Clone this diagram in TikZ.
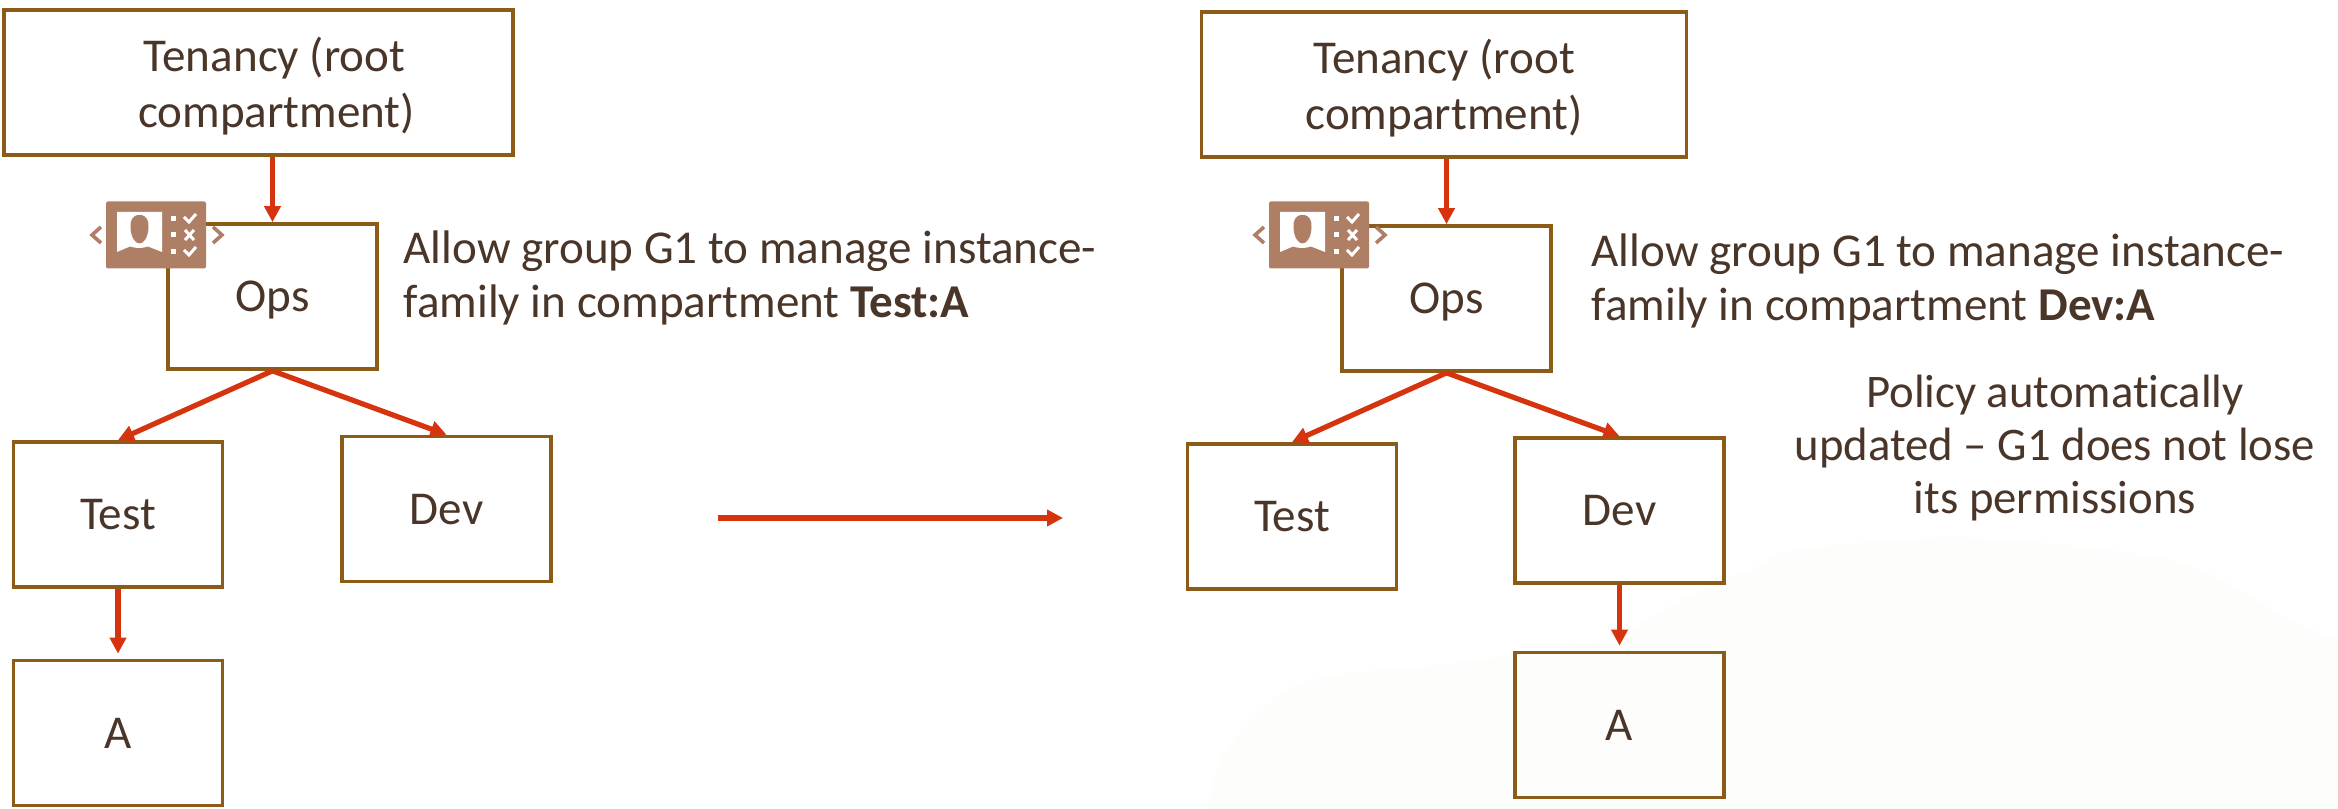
\documentclass[tikz,border=0pt]{standalone}
\usepackage{fontspec}
\setmainfont[Ligatures=NoCommon]{Carlito}
\usetikzlibrary{arrows.meta}

\definecolor{boxbrown}{HTML}{8C5B17}
\definecolor{linkred}{HTML}{D6340F}
\definecolor{textbrown}{HTML}{4A3529}
\definecolor{iconbrown}{HTML}{AE7F65}
\definecolor{hillgray}{HTML}{FDFDFC}

\tikzset{
    compbox/.style={draw=boxbrown, line width=0.37mm, align=center, inner sep=0pt, text depth=0pt, text=textbrown, font=\fontsize{13.4}{16}\selectfont},
    notetext/.style={inner sep=0pt, text=textbrown, font=\fontsize{13.4}{15.6}\selectfont},
    link/.style={draw=linkred, line width=0.52mm, -{Triangle[length=1.6mm,width=1.6mm]}},
    policyicon/.pic={
        \fill[iconbrown, rounded corners=0.2mm] (-0.5,-0.335) rectangle (0.5,0.335);
        \fill[white] (-0.39,0.23) -- (0.06,0.23) -- (0.06,-0.17) -- (-0.08,-0.115) .. controls (-0.14,-0.135) and (-0.2,-0.135) .. (-0.26,-0.115) -- (-0.39,-0.17) -- cycle;
        \fill[iconbrown] (-0.165,0.2) .. controls (-0.09,0.2) and (-0.07,0.14) .. (-0.075,0.07) .. controls (-0.08,-0.02) and (-0.12,-0.085) .. (-0.165,-0.085) .. controls (-0.21,-0.085) and (-0.25,-0.02) .. (-0.255,0.07) .. controls (-0.26,0.14) and (-0.24,0.2) .. (-0.165,0.2) -- cycle;
        % bullets and marks
        \foreach \y in {0.165, 0, -0.165} {
            \fill[white] (0.145,\y-0.025) rectangle (0.2,\y+0.025);
        }
        \draw[white, line width=0.3mm] (0.28,0.18) -- (0.33,0.13) -- (0.40,0.21);
        \draw[white, line width=0.3mm] (0.29,-0.05) -- (0.38,0.05) (0.29,0.05) -- (0.38,-0.05);
        \draw[white, line width=0.3mm] (0.28,-0.15) -- (0.33,-0.20) -- (0.40,-0.12);
        % side chevrons
        \draw[iconbrown, line width=0.36mm] (-0.55,0.08) -- (-0.64,0) -- (-0.55,-0.08);
        \draw[iconbrown, line width=0.36mm] (0.57,0.08) -- (0.66,0) -- (0.57,-0.08);
    }
}

\begin{document}
\begin{tikzpicture}
    \useasboundingbox (0,0) rectangle (23.38,8.09);

    % Faint hill behind the right part
    \fill[hillgray] plot[smooth] coordinates {(12.07,0) (12.26,0.59) (13.01,1.26) (14.53,1.46) (16.04,1.69) (16.8,2.09) (17.56,2.42) (17.94,2.59) (19.5,2.72) (21.0,2.6) (21.95,2.42) (22.86,1.92) (23.38,1.69)} -- (23.38,0) -- cycle;

    % Left tree
    \node[compbox, minimum width=5.09cm, minimum height=1.45cm] (tenancyL) at (2.585,7.265) {\hspace*{0.32cm}Tenancy (root\\\hspace*{0.36cm}compartment)};
    \node[compbox, minimum width=2.09cm, minimum height=1.45cm] (opsL) at (2.725,5.125) {Ops};
    \node[compbox, minimum width=2.09cm, minimum height=1.45cm] (testL) at (1.18,2.945) {Test};
    \node[compbox, minimum width=2.09cm, minimum height=1.45cm] (devL) at (4.465,3.00) {Dev};
    \node[compbox, minimum width=2.09cm, minimum height=1.45cm] (aL) at (1.18,0.76) {A};

    \pic at (1.56,5.74) {policyicon};
    \node[notetext, anchor=west, align=left] (noteL) at (4.03,5.31) {Allow group G1 to manage instance-\\family in compartment \textbf{Test:A}};

    \draw[link] (opsL.north |- tenancyL.south) -- (opsL.north);
    \draw[link] (opsL.south) -- (testL.north);
    \draw[link] (opsL.south) -- (devL.north);
    \draw[link, shorten >=0.05cm] (testL.south) -- (aL.north);

    % Middle arrow
    \coordinate (moveStart) at (7.18,2.91);
    \coordinate (moveEnd) at (10.63,2.91);
    \draw[link] (moveStart) -- (moveEnd);

    % Right tree
    \node[compbox, minimum width=4.85cm, minimum height=1.45cm] (tenancyR) at (14.44,7.245) {Tenancy (root\\compartment)};
    \node[compbox, minimum width=2.09cm, minimum height=1.45cm] (opsR) at (14.465,5.105) {Ops};
    \node[compbox, minimum width=2.09cm, minimum height=1.45cm] (testR) at (12.92,2.925) {Test};
    \node[compbox, minimum width=2.09cm, minimum height=1.45cm] (devR) at (16.195,2.985) {Dev};
    \node[compbox, minimum width=2.09cm, minimum height=1.45cm] (aR) at (16.195,0.84) {A};

    \pic at (13.19,5.74) {policyicon};
    \node[notetext, anchor=west, align=left] (noteR) at (15.91,5.28) {Allow group G1 to manage instance-\\family in compartment \textbf{Dev:A}};
    \node[notetext, align=center, font=\fontsize{13.3}{15}\selectfont] (noteAuto) at (20.55,3.61) {Policy automatically\\updated -- G1 does not lose\\its permissions};

    \draw[link] (opsR.north |- tenancyR.south) -- (opsR.north);
    \draw[link] (opsR.south) -- (testR.north);
    \draw[link] (opsR.south) -- (devR.north);
    \draw[link, shorten >=0.05cm] (devR.south) -- (aR.north);
\end{tikzpicture}
\end{document}
